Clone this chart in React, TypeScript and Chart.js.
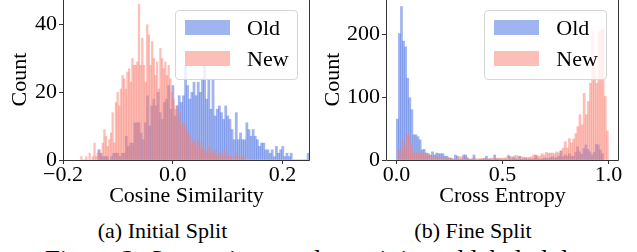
import React, { useEffect, useRef } from 'react';
import { Chart, registerables } from 'chart.js';

Chart.register(...registerables);

const FONT = "'Liberation Serif', 'Times New Roman', serif";
const OLD_COLOR = 'rgba(65,105,225,0.5)';
const NEW_COLOR = 'rgba(250,128,114,0.5)';
const SERIES_LABELS = ['Old', 'New'];

// (a) Initial Split — cosine similarity histograms
const A_OLD_BIN_START = -0.1365;
const A_OLD_BIN_WIDTH = 0.00385;
const A_OLD_COUNTS = [
  3, 2, 1, 1, 1, 0, 1, 2, 2, 2,
  1, 2, 2, 7, 4, 5, 5, 11, 11, 11,
  8, 6, 11, 19, 10, 16, 18, 16, 20, 14,
  12, 17, 18, 22, 15, 22, 13, 16, 19, 17,
  19, 28, 22, 18, 20, 23, 19, 23, 20, 24,
  28, 18, 24, 15, 24, 13, 15, 16, 14, 12,
  16, 13, 12, 9, 6, 14, 6, 8, 6, 6,
  11, 9, 7, 9, 7, 6, 4, 5, 5, 3,
  3, 2, 3, 1, 4, 2, 3, 4, 1, 2,
  1, 2, 0, 0, 0, 0, 0, 0, 0, 2,
];
const A_NEW_BIN_START = -0.168;
const A_NEW_BIN_WIDTH = 0.003;
const A_NEW_COUNTS = [
  1, 0, 0, 1, 0, 2, 0, 1, 5, 1,
  2, 3, 1, 5, 9, 7, 4, 6, 8, 14,
  5, 17, 20, 16, 21, 25, 24, 21, 26, 27,
  23, 30, 28, 28, 29, 46, 28, 36, 28, 23,
  40, 37, 28, 35, 30, 25, 29, 21, 33, 30,
  27, 29, 25, 28, 24, 20, 18, 15, 16, 12,
  14, 10, 11, 10, 9, 8, 7, 5, 6, 5,
  4, 6, 3, 5, 3, 3, 2, 4, 2, 3,
  2, 2, 3, 1, 2, 2, 1, 3, 1, 2,
  1, 1, 0, 1, 2, 0, 1, 0, 1, 1,
];
const A_X_RANGE = [-0.2, 0.25];
const A_Y_MAX = 47.6;
const A_X_TICKS = [-0.2, 0, 0.2];
const A_X_TICK_LABELS = ['\u22120.2', '0.0', '0.2'];
const A_Y_TICKS = [0, 20, 40];
const A_Y_TICK_LABELS = ['0', '20', '40'];

// (b) Fine Split — cross entropy histograms
const B_OLD_BIN_START = -0.0014;
const B_OLD_BIN_WIDTH = 0.00978;
const B_OLD_COUNTS = [
  65, 201, 244, 189, 180, 130, 99, 80, 40, 40,
  37, 32, 16, 17, 11, 10, 8, 13, 8, 11,
  10, 10, 10, 6, 6, 3, 3, 1, 8, 6,
  1, 1, 8, 8, 3, 1, 1, 8, 0, 0,
  1, 1, 2, 6, 2, 1, 0, 8, 2, 1,
  1, 0, 1, 0, 6, 1, 4, 2, 1, 6,
  1, 2, 3, 1, 2, 1, 2, 7, 2, 1,
  2, 3, 3, 2, 4, 5, 3, 4, 6, 14,
  5, 8, 6, 10, 6, 6, 12, 21, 13, 9,
  18, 24, 17, 13, 8, 12, 25, 24, 16, 10,
];
const B_NEW_BIN_START = 0.005;
const B_NEW_BIN_WIDTH = 0.00995;
const B_NEW_COUNTS = [
  17, 13, 33, 22, 40, 40, 22, 11, 11, 11,
  11, 11, 11, 10, 8, 6, 5, 6, 6, 4,
  4, 4, 2, 3, 3, 2, 2, 1, 2, 5,
  5, 4, 5, 2, 1, 3, 3, 2, 2, 2,
  3, 2, 1, 2, 3, 3, 2, 3, 3, 3,
  3, 4, 8, 5, 5, 7, 7, 5, 5, 5,
  4, 4, 4, 5, 8, 8, 6, 6, 10, 8,
  12, 11, 11, 11, 10, 13, 11, 15, 19, 29,
  19, 34, 27, 33, 42, 53, 72, 56, 106, 72,
  93, 122, 204, 148, 122, 204, 207, 209, 101, 46,
];
const B_X_RANGE = [-0.05, 1.05];
const B_Y_MAX = 256;
const B_X_TICKS = [0, 0.5, 1];
const B_X_TICK_LABELS = ['0.0', '0.5', '1.0'];
const B_Y_TICKS = [0, 100, 200];
const B_Y_TICK_LABELS = ['0', '100', '200'];

const Y_TITLE = 'Count';
const A_X_TITLE = 'Cosine Similarity';
const B_X_TITLE = 'Cross Entropy';
const A_CAPTION = '(a) Initial Split';
const B_CAPTION = '(b) Fine Split';
const FIGURE_CAPTION = 'Figure 3: Separation results on injected labeled dataset.';

function toPoints(start: number, width: number, counts: number[]) {
  return counts.map((c, i) => ({ x: start + width * (i + 0.5), y: c }));
}

const framePlugin = {
  id: 'frame',
  afterDatasetsDraw(chart: any) {
    const { ctx, chartArea } = chart;
    const l = Math.round(chartArea.left) + 0.5;
    const r = Math.round(chartArea.right) - 0.5;
    const t = Math.round(chartArea.top) - 0.5;
    const b = Math.round(chartArea.bottom) + 0.5;
    ctx.save();
    ctx.strokeStyle = '#333';
    ctx.lineWidth = 1;
    ctx.beginPath();
    ctx.moveTo(l, t);
    ctx.lineTo(l, b);
    ctx.lineTo(r, b);
    ctx.lineTo(r, t);
    ctx.lineTo(l, t);
    ctx.stroke();
    ctx.restore();
  },
};

type PanelProps = {
  left: number;
  width: number;
  yAxisWidth: number;
  padRight: number;
  yTitlePad: number;
  xRange: number[];
  yMax: number;
  xTicks: number[];
  xTickLabels: string[];
  yTicks: number[];
  yTickLabels: string[];
  xTitle: string;
  oldPts: { x: number; y: number }[];
  newPts: { x: number; y: number }[];
};

const CANVAS_TOP = -2;
const CANVAS_H = 210;
const X_AXIS_H = 48;

function zeroPad(axis: any) {
  axis.paddingTop = 0;
  axis.paddingBottom = 0;
  axis.paddingLeft = 0;
  axis.paddingRight = 0;
}

function Panel(p: PanelProps) {
  const ref = useRef<HTMLCanvasElement>(null);
  useEffect(() => {
    if (!ref.current) return;
    const tickFont = { family: FONT, size: 22, lineHeight: 1 };
    const chart = new Chart(ref.current, {
      type: 'bar',
      data: {
        datasets: [
          {
            label: SERIES_LABELS[0],
            data: p.oldPts as any,
            xAxisID: 'x',
            backgroundColor: OLD_COLOR,
            borderWidth: 0,
            barPercentage: 1,
            categoryPercentage: 1,
            grouped: false,
            order: 2,
          },
          {
            label: SERIES_LABELS[1],
            data: p.newPts as any,
            xAxisID: 'x2',
            backgroundColor: NEW_COLOR,
            borderWidth: 0,
            barPercentage: 1,
            categoryPercentage: 1,
            grouped: false,
            order: 1,
          },
        ],
      },
      options: {
        animation: false,
        responsive: false,
        maintainAspectRatio: false,
        layout: { padding: { left: 0, right: p.padRight, top: 1, bottom: 0 } },
        plugins: { legend: { display: false }, tooltip: { enabled: false } },
        scales: {
          x: {
            type: 'linear',
            min: p.xRange[0],
            max: p.xRange[1],
            offset: false,
            grid: { drawOnChartArea: false, drawTicks: true, tickLength: 4, color: '#333', offset: false },
            border: { display: false },
            ticks: {
              font: tickFont,
              color: '#000',
              padding: 0,
              autoSkip: false,
              maxRotation: 0,
              callback: (_v: any, i: number) => p.xTickLabels[i],
            },
            afterBuildTicks: (axis: any) => {
              axis.ticks = p.xTicks.map((v) => ({ value: v }));
            },
            afterFit: (axis: any) => {
              axis.height = X_AXIS_H;
              zeroPad(axis);
            },
            title: {
              display: true,
              text: p.xTitle,
              color: '#000',
              font: { family: FONT, size: 22, lineHeight: 1 },
              padding: { top: 0, bottom: 1 },
            },
          },
          x2: {
            type: 'linear',
            display: false,
            min: p.xRange[0],
            max: p.xRange[1],
            offset: false,
            grid: { offset: false },
            afterFit: (axis: any) => zeroPad(axis),
          },
          y: {
            type: 'linear',
            min: 0,
            max: p.yMax,
            grid: { drawOnChartArea: false, drawTicks: true, tickLength: 4, color: '#333' },
            border: { display: false },
            ticks: {
              font: tickFont,
              color: '#000',
              padding: 2,
              callback: (_v: any, i: number) => p.yTickLabels[i],
            },
            afterBuildTicks: (axis: any) => {
              axis.ticks = p.yTicks.map((v) => ({ value: v }));
            },
            afterFit: (axis: any) => {
              axis.width = p.yAxisWidth;
              zeroPad(axis);
            },
            title: {
              display: true,
              text: Y_TITLE,
              color: '#000',
              font: { family: FONT, size: 22, lineHeight: 1 },
              padding: { top: p.yTitlePad, bottom: 0 },
            },
          },
        },
      } as any,
      plugins: [framePlugin],
    });
    return () => chart.destroy();
  }, []);
  return (
    <canvas
      ref={ref}
      width={p.width}
      height={CANVAS_H}
      style={{ position: 'absolute', left: p.left, top: CANVAS_TOP, width: p.width, height: CANVAS_H }}
    />
  );
}

function Legend({ left }: { left: number }) {
  const text: React.CSSProperties = {
    position: 'absolute',
    fontFamily: FONT,
    fontSize: 22,
    lineHeight: '22px',
    color: '#000',
    whiteSpace: 'nowrap',
  };
  return (
    <div
      style={{
        position: 'absolute',
        left,
        top: 10,
        width: 123,
        height: 70,
        boxSizing: 'border-box',
        border: '1px solid #d6d6d6',
        borderRadius: 4,
        background: 'rgba(255,255,255,0.8)',
      }}
    >
      <div style={{ position: 'absolute', left: 8.5, top: 8.5, width: 45, height: 15, background: OLD_COLOR }} />
      <div style={{ position: 'absolute', left: 8.5, top: 40, width: 45, height: 15, background: NEW_COLOR }} />
      <div style={{ ...text, left: 71, top: 5.6 }}>{SERIES_LABELS[0]}</div>
      <div style={{ ...text, left: 71, top: 37.3 }}>{SERIES_LABELS[1]}</div>
    </div>
  );
}

export default function App() {
  const cap: React.CSSProperties = {
    position: 'absolute',
    fontFamily: FONT,
    fontSize: 22,
    lineHeight: '22px',
    color: '#000',
    whiteSpace: 'nowrap',
    transform: 'translateX(-50%)',
  };
  return (
    <div
      style={{
        position: 'absolute',
        left: 0,
        top: 0,
        width: 637,
        height: 252,
        overflow: 'hidden',
        background: '#fff',
      }}
    >
      <Panel
        left={0}
        width={318}
        yAxisWidth={63}
        padRight={8}
        yTitlePad={9.5}
        xRange={A_X_RANGE}
        yMax={A_Y_MAX}
        xTicks={A_X_TICKS}
        xTickLabels={A_X_TICK_LABELS}
        yTicks={A_Y_TICKS}
        yTickLabels={A_Y_TICK_LABELS}
        xTitle={A_X_TITLE}
        oldPts={toPoints(A_OLD_BIN_START, A_OLD_BIN_WIDTH, A_OLD_COUNTS)}
        newPts={toPoints(A_NEW_BIN_START, A_NEW_BIN_WIDTH, A_NEW_COUNTS)}
      />
      <Panel
        left={318}
        width={319}
        yAxisWidth={68}
        padRight={18}
        yTitlePad={4.5}
        xRange={B_X_RANGE}
        yMax={B_Y_MAX}
        xTicks={B_X_TICKS}
        xTickLabels={B_X_TICK_LABELS}
        yTicks={B_Y_TICKS}
        yTickLabels={B_Y_TICK_LABELS}
        xTitle={B_X_TITLE}
        oldPts={toPoints(B_OLD_BIN_START, B_OLD_BIN_WIDTH, B_OLD_COUNTS)}
        newPts={toPoints(B_NEW_BIN_START, B_NEW_BIN_WIDTH, B_NEW_COUNTS)}
      />
      <Legend left={175} />
      <Legend left={484.3} />
      <div style={{ ...cap, left: 162.5, top: 219.6 }}>{A_CAPTION}</div>
      <div style={{ ...cap, left: 473, top: 219.6 }}>{B_CAPTION}</div>
      <div
        style={{
          position: 'absolute',
          left: 45,
          top: 247,
          fontFamily: FONT,
          fontSize: 26.7,
          lineHeight: '26.7px',
          color: '#000',
          whiteSpace: 'nowrap',
        }}
      >
        {FIGURE_CAPTION}
      </div>
    </div>
  );
}
